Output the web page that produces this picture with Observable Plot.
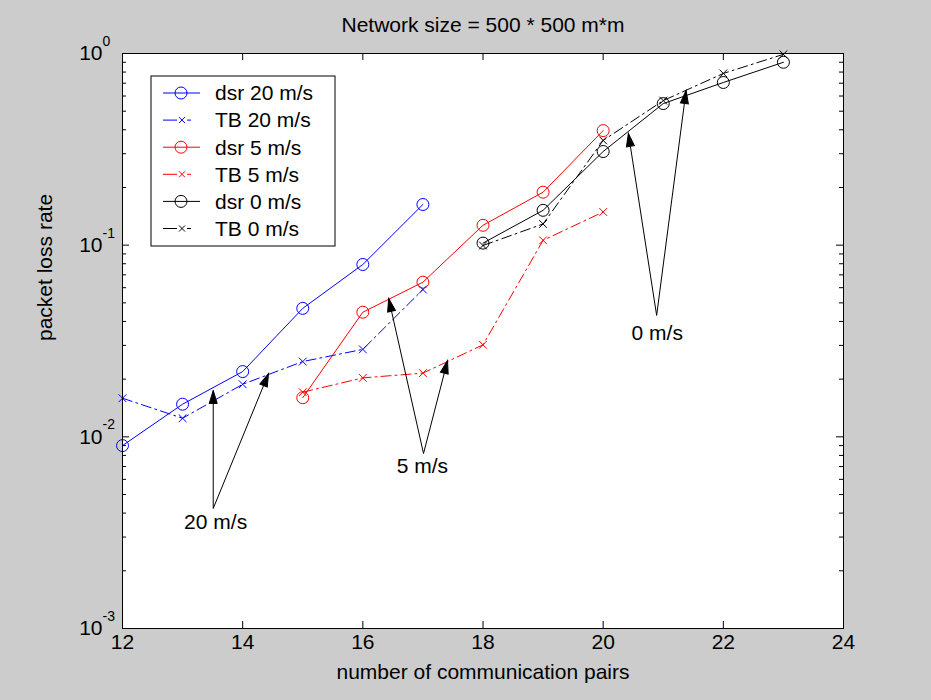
<!DOCTYPE html>
<html><head><meta charset="utf-8">
<script src="https://cdn.jsdelivr.net/npm/d3@7"></script>
<script src="https://cdn.jsdelivr.net/npm/@observablehq/plot@0.6"></script>
<style>html,body{margin:0;padding:0;background:#cccccc;}</style>
</head><body><div id="chart"></div>
<script>
// ---- data ----
const pairs20 = [12, 13, 14, 15, 16, 17];
const dsr20   = [0.0090, 0.0148, 0.0219, 0.0468, 0.0793, 0.163];
const tb20    = [0.0159, 0.0125, 0.0188, 0.0247, 0.0286, 0.0587];
const pairs5  = [15, 16, 17, 18, 19, 20];
const dsr5    = [0.0160, 0.0447, 0.0641, 0.127, 0.189, 0.396];
const tb5     = [0.0171, 0.0203, 0.0215, 0.0302, 0.106, 0.149];
const pairs0  = [18, 19, 20, 21, 22, 23];
const dsr0    = [0.1025, 0.152, 0.308, 0.548, 0.706, 0.90];
const tb0     = [0.0996, 0.129, 0.352, 0.568, 0.787, 0.99];

const seriesNames  = ["dsr 20 m/s", "TB 20 m/s", "dsr 5 m/s", "TB 5 m/s", "dsr 0 m/s", "TB 0 m/s"];
const seriesColors = ["#0000ff", "#0000ff", "#ff0000", "#ff0000", "#000000", "#000000"];
const seriesKinds  = ["dsr", "TB", "dsr", "TB", "dsr", "TB"];
const seriesX = [pairs20, pairs20, pairs5, pairs5, pairs0, pairs0];
const seriesY = [dsr20, tb20, dsr5, tb5, dsr0, tb0];

const xTicks = [12, 14, 16, 18, 20, 22, 24];
const yMajor = [1e-3, 1e-2, 1e-1, 1];
const yMinor = [2,3,4,5,6,7,8,9].flatMap(m => [1e-3, 1e-2, 1e-1].map(d => m * d));

const titleText = "Network size = 500 * 500 m*m";
const xLabel = "number of communication pairs";
const yLabel = "packet loss rate";

// annotations: label positions and arrows (base -> tip)
const noteLabels = [
  {text: "20 m/s", x: 13.55, y: 0.00357},
  {text: "5 m/s",  x: 16.99, y: 0.00701},
  {text: "0 m/s",  x: 20.90, y: 0.0346}
];
const noteArrows = [
  {x1: 13.51, y1: 0.00423, x2: 13.51, y2: 0.01746},
  {x1: 13.51, y1: 0.00423, x2: 14.43, y2: 0.0214},
  {x1: 17.01, y1: 0.00819, x2: 16.43, y2: 0.0527},
  {x1: 17.01, y1: 0.00819, x2: 17.41, y2: 0.0250},
  {x1: 20.89, y1: 0.0430,  x2: 20.42, y2: 0.383},
  {x1: 20.89, y1: 0.0430,  x2: 21.38, y2: 0.641}
];

// ---- build table ----
const data = seriesNames.flatMap((name, i) =>
  seriesX[i].map((x, j) => ({series: name, kind: seriesKinds[i], color: seriesColors[i], x, y: seriesY[i][j]})));
const dsrData = data.filter(d => d.kind === "dsr");
const tbData = data.filter(d => d.kind === "TB");

// ---- layout ----
const W = 931, H = 700, ML = 122, MR = 88, MT = 53, MB = 72;
const IW = W - ML - MR, IH = H - MT - MB;
const FONT = "Liberation Sans, Arial, Helvetica, sans-serif";
const FS = 21;
const DASHDOT = "10,4,2,4";
const headSymbol = {draw(ctx) { ctx.moveTo(0, 0); ctx.lineTo(-4, 13); ctx.lineTo(4, 13); ctx.closePath(); }};

function makePlot(heads) {
  return Plot.plot({
    width: W, height: H,
    marginLeft: ML, marginRight: MR, marginTop: MT, marginBottom: MB,
    style: {fontFamily: FONT, fontSize: FS + "px", background: "#cccccc", color: "black"},
    x: {domain: [12, 24], axis: null},
    y: {type: "log", domain: [1e-3, 1], axis: null},
    marks: [
      Plot.frame({fill: "white", stroke: null}),
      // inside ticks
      Plot.tickX(xTicks, {x: d => d, insetTop: IH - 7, stroke: "black"}),
      Plot.tickX(xTicks, {x: d => d, insetBottom: IH - 7, stroke: "black"}),
      Plot.tickY(yMajor, {y: d => d, insetRight: IW - 7, stroke: "black"}),
      Plot.tickY(yMajor, {y: d => d, insetLeft: IW - 7, stroke: "black"}),
      Plot.tickY(yMinor, {y: d => d, insetRight: IW - 4, stroke: "black"}),
      Plot.tickY(yMinor, {y: d => d, insetLeft: IW - 4, stroke: "black"}),
      // axes labels
      Plot.axisX({ticks: xTicks, tickSize: 0, tickPadding: 6, tickFormat: d => String(d), fontSize: FS}),
      Plot.axisY({ticks: yMajor, tickSize: 0, tickPadding: 20, tickFormat: () => "10", fontSize: FS}),
      Plot.text(yMajor, {y: d => d, text: d => String(Math.round(Math.log10(d))), frameAnchor: "left",
        dx: -20, dy: -12, textAnchor: "start", fontSize: 14}),
      Plot.text([titleText], {frameAnchor: "top", dy: -28, lineAnchor: "middle", fontSize: FS}),
      Plot.text([xLabel], {frameAnchor: "bottom", dy: 44, lineAnchor: "middle", fontSize: FS}),
      Plot.text([yLabel], {frameAnchor: "left", dx: -77, rotate: -90, fontSize: FS}),
      // series
      Plot.line(dsrData, {x: "x", y: "y", z: "series", stroke: d => d.color, strokeWidth: 1}),
      Plot.line(tbData, {x: "x", y: "y", z: "series", stroke: d => d.color, strokeWidth: 1, strokeDasharray: DASHDOT}),
      Plot.dot(dsrData, {x: "x", y: "y", stroke: d => d.color, r: 6, strokeWidth: 1}),
      Plot.dot(tbData, {x: "x", y: "y", stroke: d => d.color, symbol: "times", r: 3.6, strokeWidth: 1}),
      // annotations
      Plot.link(noteArrows, {x1: "x1", y1: "y1", x2: "x2", y2: "y2", stroke: "black", strokeWidth: 1}),
      Plot.dot(heads, {x: "x2", y: "y2", rotate: "rot", symbol: headSymbol, fill: "black", stroke: "black", strokeWidth: 1}),
      Plot.text(noteLabels, {x: "x", y: "y", text: "text", fontSize: FS}),
      Plot.frame({stroke: "black", strokeWidth: 1})
    ]
  });
}

const probe = makePlot([]);
const sx = probe.scale("x"), sy = probe.scale("y");
const heads = noteArrows.map(a => {
  const dx = sx.apply(a.x2) - sx.apply(a.x1);
  const dy = sy.apply(a.y2) - sy.apply(a.y1);
  return {...a, rot: Math.atan2(dx, -dy) * 180 / Math.PI};
});
const chart = makePlot(heads);

// ---- legend box inside the axes ----
const lg = d3.select(chart).append("g").attr("font-family", FONT).attr("font-size", FS)
  .attr("text-anchor", "start");
const LX = 151, LY = 76, LW = 184, LH = 170, ROW = 27.1, FIRST = 93;
lg.append("rect").attr("x", LX).attr("y", LY).attr("width", LW).attr("height", LH)
  .attr("fill", "white").attr("stroke", "black");
seriesNames.forEach((name, i) => {
  const y = FIRST + i * ROW;
  const c = seriesColors[i];
  if (seriesKinds[i] === "dsr") {
    lg.append("line").attr("x1", 163).attr("x2", 200).attr("y1", y).attr("y2", y).attr("stroke", c);
    lg.append("circle").attr("cx", 181).attr("cy", y).attr("r", 6).attr("fill", "none").attr("stroke", c);
  } else {
    lg.append("line").attr("x1", 163).attr("x2", 177).attr("y1", y).attr("y2", y).attr("stroke", c);
    lg.append("line").attr("x1", 187).attr("x2", 191).attr("y1", y).attr("y2", y).attr("stroke", c);
    lg.append("path").attr("d", `M179,${y-3}L185,${y+3}M179,${y+3}L185,${y-3}`).attr("stroke", c);
  }
  lg.append("text").attr("x", 215).attr("y", y).attr("dy", "0.35em").text(name);
});

document.getElementById("chart").appendChild(chart);
</script>
</body></html>
